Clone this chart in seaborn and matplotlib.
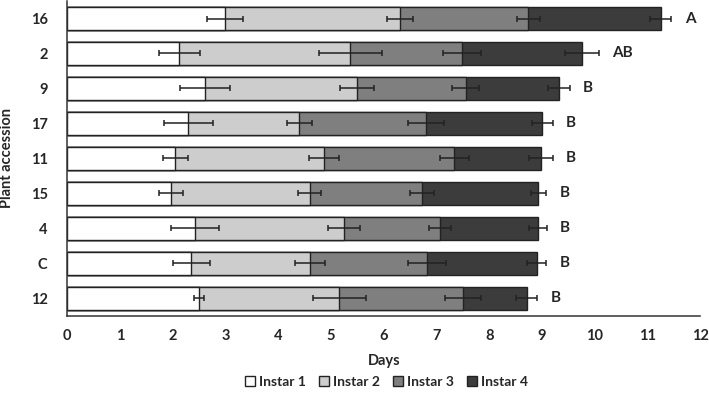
import numpy as np
import pandas as pd
import seaborn as sns
import matplotlib.pyplot as plt
from matplotlib.patches import Patch

sns.set_style('white')
plt.rcParams['font.family'] = ['Lato', 'DejaVu Sans']
plt.rcParams['font.weight'] = 'bold'

# --------------------------
# Dados (fim acumulado de cada instar, em dias, e erro padrão)
# --------------------------
accessions = ['16', '2', '9', '17', '11', '15', '4', 'C', '12']
end_instar1 = [3.00, 2.13, 2.61, 2.30, 2.05, 1.97, 2.42, 2.35, 2.50]
end_instar2 = [6.31, 5.37, 5.49, 4.40, 4.87, 4.60, 5.25, 4.60, 5.16]
end_instar3 = [8.74, 7.49, 7.55, 6.80, 7.34, 6.72, 7.07, 6.82, 7.50]
end_instar4 = [11.25, 9.75, 9.32, 9.00, 8.98, 8.93, 8.92, 8.90, 8.71]
err_instar1 = [0.34, 0.38, 0.47, 0.47, 0.24, 0.23, 0.45, 0.35, 0.10]
err_instar2 = [0.24, 0.60, 0.32, 0.24, 0.28, 0.22, 0.30, 0.28, 0.50]
err_instar3 = [0.22, 0.36, 0.26, 0.34, 0.27, 0.23, 0.21, 0.36, 0.34]
err_instar4 = [0.20, 0.32, 0.20, 0.20, 0.22, 0.15, 0.17, 0.18, 0.20]
letters = ['A', 'AB', 'B', 'B', 'B', 'B', 'B', 'B', 'B']

instars = ['Instar 1', 'Instar 2', 'Instar 3', 'Instar 4']
colors = ['#ffffff', '#cdcdcd', '#7f7f7f', '#3c3c3c']
ends = [end_instar1, end_instar2, end_instar3, end_instar4]
errs = [err_instar1, err_instar2, err_instar3, err_instar4]

df = pd.DataFrame({'Accession': accessions})
for name, e in zip(instars, ends):
    df[name] = e

fig, ax = plt.subplots(figsize=(7.09, 4.03), dpi=100)

# barras empilhadas: desenha do acumulado maior para o menor
for name, col in reversed(list(zip(instars, colors))):
    sns.barplot(data=df, x=name, y='Accession', orient='h', color=col,
                edgecolor='#222222', linewidth=1.0, width=0.66, ax=ax,
                saturation=1)

ypos = np.arange(len(accessions))
for e, s in zip(ends, errs):
    ax.errorbar(e, ypos, xerr=s, fmt='none', ecolor='#222222',
                elinewidth=1.1, capsize=2.5, capthick=1.1, zorder=5)

# letras de significância
for i, (e, s, lt) in enumerate(zip(end_instar4, err_instar4, letters)):
    ax.text(e + s + 0.25, i, lt, va='center', ha='left', fontsize=11,
            fontweight='bold')

ax.set_xlim(0, 12)
ax.set_ylim(8.5, -0.5)
ax.set_xticks(range(0, 13))
ax.set_xlabel('Days', fontsize=10.5, fontweight='bold', labelpad=8)
ax.set_ylabel('Plant accession', fontsize=10.5, fontweight='bold', labelpad=12)
ax.tick_params(axis='x', labelsize=10.5, direction='inout', length=5,
               width=1, color='#333333', pad=7)
ax.tick_params(axis='y', labelsize=10.5, length=0, pad=14)
for lbl in ax.get_xticklabels() + ax.get_yticklabels():
    lbl.set_fontweight('bold')

for side in ['top', 'right']:
    ax.spines[side].set_visible(False)
for side in ['left', 'bottom']:
    ax.spines[side].set_color('#333333')
    ax.spines[side].set_linewidth(1.1)

handles = [Patch(facecolor=c, edgecolor='#222222', label=n)
           for n, c in zip(instars, colors)]
fig.legend(handles=handles, loc='center', ncol=4, frameon=False,
           bbox_to_anchor=(0.545, 0.052), handlelength=0.75, handleheight=0.75,
           handletextpad=0.3, columnspacing=0.9, prop={'size': 10, 'weight': 'bold'})

plt.subplots_adjust(left=0.0945, right=0.988, top=0.9975, bottom=0.216)
plt.savefig('out.png', dpi=100)
